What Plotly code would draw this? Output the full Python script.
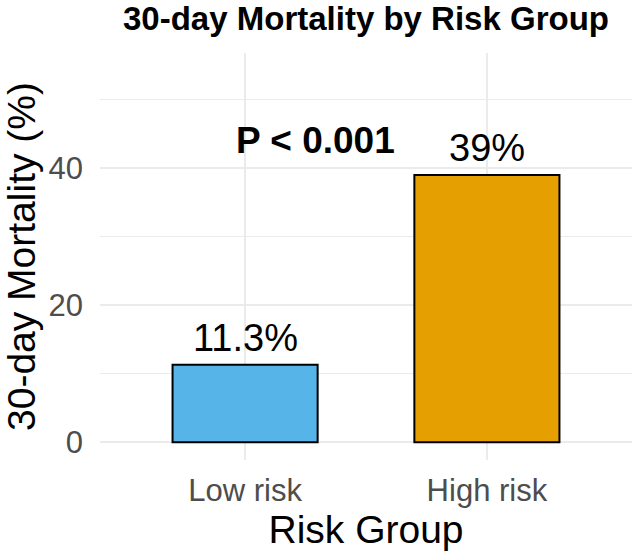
import plotly.graph_objects as go

categories = ["Low risk", "High risk"]
mortality = [11.3, 39.0]
labels = ["11.3%", "39%"]
colors = ["#56B4E9", "#E69F00"]
p_text = "P < 0.001"
y_ticks = [0, 20, 40]

FONT = "Liberation Sans, Arial, sans-serif"

fig = go.Figure()
fig.add_trace(go.Bar(
    x=categories, y=mortality, width=0.6,
    marker=dict(color=colors, line=dict(color="black", width=2)),
    showlegend=False, hoverinfo="skip",
))

for c, v, t in zip(categories, mortality, labels):
    fig.add_annotation(x=c, y=v, text=t, showarrow=False, yanchor="bottom",
                       yshift=4, font=dict(family=FONT, size=38, color="black"))

fig.add_annotation(x=0.29, y=44, xref="x", yref="y", text="<b>" + p_text + "</b>",
                   showarrow=False, yanchor="middle",
                   font=dict(family=FONT, size=37, color="black"))

fig.update_layout(
    width=634, height=554,
    margin=dict(l=100, r=2, t=53, b=94),
    paper_bgcolor="white", plot_bgcolor="white",
    title=dict(text="<b>30-day Mortality by Risk Group</b>", x=0.5, xref="paper",
               y=1 - 18 / 554, yref="container", yanchor="middle", xanchor="center",
               font=dict(family=FONT, size=33, color="black")),
    xaxis=dict(
        range=[-0.6, 1.6], showgrid=True, gridcolor="#ebebeb", gridwidth=1.5,
        tickfont=dict(family=FONT, size=31, color="#4d4d4d"),
        ticks="", ticklabelstandoff=9, zeroline=False, showline=False,
        title=dict(text="Risk Group", font=dict(family=FONT, size=39, color="black"), standoff=5),
    ),
    yaxis=dict(
        range=[-2.6, 56.8], tickvals=y_ticks, showgrid=True, gridcolor="#ebebeb", gridwidth=1.5,
        minor=dict(tickvals=[10, 30, 50], showgrid=True, gridcolor="#ebebeb", gridwidth=1),
        tickfont=dict(family=FONT, size=31, color="#4d4d4d"),
        ticks="", ticklabelstandoff=16, zeroline=False, showline=False,
        title=dict(text="30-day Mortality (%)", font=dict(family=FONT, size=39, color="black"), standoff=12),
    ),
)

fig.write_html("out.html")
